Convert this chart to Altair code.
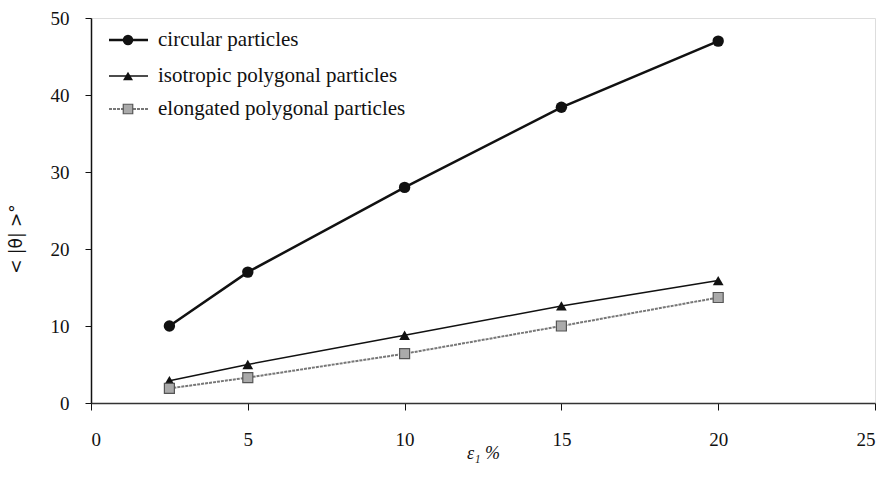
import altair as alt
import pandas as pd

strain = [2.5, 5, 10, 15, 20]
circular = [10.0, 17.0, 28.0, 38.4, 47.0]
isotropic = [2.9, 5.0, 8.8, 12.6, 15.9]
elongated = [1.9, 3.3, 6.4, 10.0, 13.7]
series_names = ["circular particles", "isotropic polygonal particles", "elongated polygonal particles"]

W, H = 784, 385
SERIF = "Liberation Serif, Times New Roman, serif"

xscale = alt.Scale(domain=[0, 25], nice=False, zero=True)
yscale = alt.Scale(domain=[0, 50], nice=False)

xaxis = alt.Axis(values=[0, 5, 10, 15, 20, 25], grid=False, tickSize=7, tickColor="#111",
                 domainColor="#333", domainWidth=1.5, labelFont=SERIF, labelFontSize=19,
                 labelColor="#111", labelPadding=20, title="ε₁ %", titleFont=SERIF,
                 titleFontSize=18, titleFontWeight="normal", titleColor="#111",
                 titleBaseline="middle", titleY=50, titleFontStyle="italic")
yaxis = alt.Axis(values=[0, 10, 20, 30, 40, 50], grid=False, tickSize=6, tickColor="#111",
                 domainColor="#111", domainWidth=1.5, labelFont=SERIF, labelFontSize=19,
                 labelColor="#111", labelPadding=16, title="< |θ| >°", titleFont="DejaVu Sans",
                 titleFontSize=17, titleFontWeight="normal", titleColor="#111",
                 titleX=-66, titleY=H / 2 + 28)


def series(vals, name):
    return pd.DataFrame({"x": strain, "y": vals, "s": name})

d_c = series(circular, series_names[0])
d_i = series(isotropic, series_names[1])
d_e = series(elongated, series_names[2])

enc = dict(x=alt.X("x:Q", scale=xscale, axis=xaxis), y=alt.Y("y:Q", scale=yscale, axis=yaxis))

line_c = alt.Chart(d_c).mark_line(color="#111", strokeWidth=2.5).encode(**enc)
pt_c = alt.Chart(d_c).mark_point(shape="circle", filled=True, color="#111", size=130, opacity=1).encode(**enc)
line_i = alt.Chart(d_i).mark_line(color="#111", strokeWidth=1.5).encode(**enc)
pt_i = alt.Chart(d_i).mark_point(shape="triangle-up", filled=True, color="#111", size=115, opacity=1).encode(**enc)
line_e = alt.Chart(d_e).mark_line(color="#777", strokeWidth=2, strokeDash=[3, 1]).encode(**enc)
pt_e = alt.Chart(d_e).mark_point(shape="square", filled=True, fill="#aaa", stroke="#555",
                                 strokeWidth=1.2, size=100, opacity=1).encode(**enc)

# manual legend
leg_rows = [22, 58, 91]
leg_layers = []
styles = [
    dict(line=dict(color="#111", strokeWidth=2.5), pt=dict(shape="circle", filled=True, color="#111", size=110)),
    dict(line=dict(color="#111", strokeWidth=1.5), pt=dict(shape="triangle-up", filled=True, color="#111", size=100)),
    dict(line=dict(color="#777", strokeWidth=2, strokeDash=[3, 1]),
         pt=dict(shape="square", filled=True, fill="#aaa", stroke="#555", strokeWidth=1.2, size=90)),
]
for name, yy, st in zip(series_names, leg_rows, styles):
    df = pd.DataFrame({"s": [name]})
    leg_layers.append(alt.Chart(df).mark_rule(**st["line"]).encode(
        x=alt.value(18), x2=alt.value(57), y=alt.value(yy)))
    leg_layers.append(alt.Chart(df).mark_point(opacity=1, **st["pt"]).encode(
        x=alt.value(37), y=alt.value(yy)))
    leg_layers.append(alt.Chart(df).mark_text(align="left", baseline="middle", font=SERIF,
                                              fontSize=21, color="#111").encode(
        x=alt.value(67), y=alt.value(yy), text="s:N"))

chart = alt.layer(line_c, line_i, line_e, pt_c, pt_i, pt_e, *leg_layers).properties(
    width=W, height=H,
    autosize=alt.AutoSizeParams(type="none"),
    padding={"left": 91, "top": 18, "right": 4, "bottom": 76},
).configure_view(stroke="#222", strokeWidth=1.2).configure(background="white", font=SERIF)

chart.save("out.html", embed_options={"renderer": "svg", "actions": False})
